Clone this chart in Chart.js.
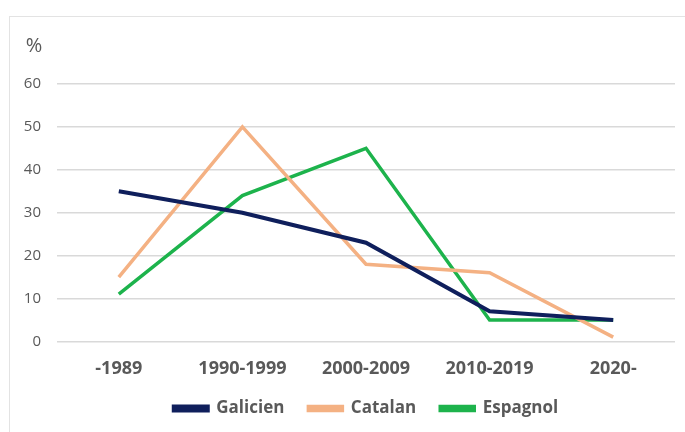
<!DOCTYPE html>
<html>
<head>
<meta charset="utf-8">
<script src="https://cdn.jsdelivr.net/npm/chart.js@4.4.0/dist/chart.umd.min.js"></script>
<style>
  html, body { margin: 0; padding: 0; background: #fff; overflow: hidden; }
  #frame { position: absolute; left: 9px; top: 16px; width: 720px; height: 480px; border: 1px solid #e3e3e3; }
  #wrap { position: absolute; left: 0; top: 0; width: 685px; height: 432px; }
</style>
</head>
<body>
<div id="frame"></div>
<div id="wrap"><canvas id="chart" width="685" height="432"></canvas></div>
<script>
var periods = ['-1989', '1990-1999', '2000-2009', '2010-2019', '2020-'];
var galicien = [35, 30, 23, 7, 5];
var catalan = [15, 50, 18, 16, 1];
var espagnol = [11, 34, 45, 5, 5];
var yTicks = [0, 10, 20, 30, 40, 50, 60];

var grey = '#595959';

// little "%" unit above the y axis
var unitLabel = {
    id: 'unitLabel',
    afterDraw: function(chart) {
        var c = chart.ctx;
        c.save();
        c.font = '20px "Open Sans"';
        c.fillStyle = grey;
        c.textAlign = 'center';
        c.textBaseline = 'middle';
        c.fillText('%', 34, 46);
        c.restore();
    }
};

window.onload = function() {
    var ctx = document.getElementById('chart').getContext('2d');
    var chart = new Chart(ctx, {
        type: 'line',
        data: {
            labels: periods,
            datasets: [
                { label: 'Galicien', data: galicien, borderColor: '#0f1f5c', backgroundColor: '#0f1f5c', borderWidth: 4 },
                { label: 'Catalan', data: catalan, borderColor: '#f4b183', backgroundColor: '#f4b183', borderWidth: 3.5 },
                { label: 'Espagnol', data: espagnol, borderColor: '#1db34c', backgroundColor: '#1db34c', borderWidth: 3.5 }
            ]
        },
        options: {
            responsive: false,
            animation: false,
            layout: { padding: { left: 0, right: 10, top: 84, bottom: 8 } },
            elements: { point: { radius: 0 }, line: { tension: 0 } },
            plugins: {
                tooltip: { enabled: false },
                legend: {
                    position: 'bottom',
                    fullSize: false,
                    maxHeight: 48,
                    labels: {
                        boxWidth: 34,
                        boxHeight: 4,
                        padding: 24,
                        color: grey,
                        font: { family: '"Open Sans"', size: 17, weight: 'bold' }
                    }
                }
            },
            scales: {
                x: {
                    offset: true,
                    grid: { display: false, drawTicks: true, tickLength: 21 },
                    border: { display: false },
                    ticks: { color: grey, padding: -4, font: { family: '"Open Sans"', size: 18, weight: 'bold' } }
                },
                y: {
                    min: 0,
                    max: 60,
                    afterBuildTicks: function(scale) {
                        scale.ticks = yTicks.map(function(v) { return { value: v }; });
                    },
                    afterFit: function(scale) { scale.width = 57; },
                    grid: { color: '#d9d9d9', lineWidth: 1.5, drawTicks: false },
                    border: { display: false },
                    ticks: { color: grey, padding: 16, font: { family: '"Open Sans"', size: 15 } }
                }
            }
        },
        plugins: [unitLabel]
    });
};
</script>
</body>
</html>
